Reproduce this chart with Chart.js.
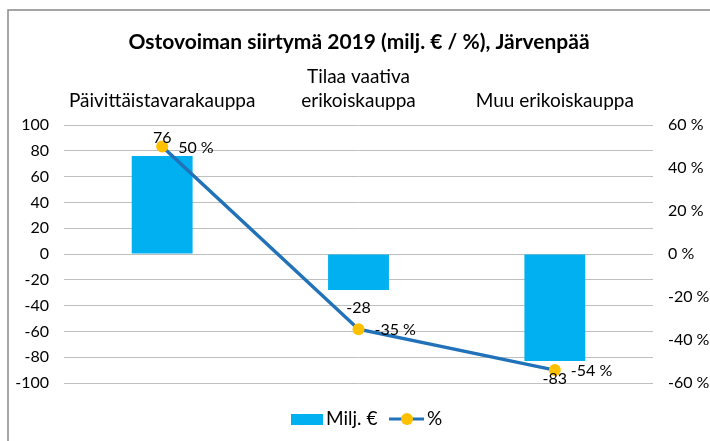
<!DOCTYPE html>
<html><head><meta charset="utf-8">
<script src="https://cdn.jsdelivr.net/npm/chart.js@4/dist/chart.umd.min.js"></script>
<style>html,body{margin:0;padding:0;background:#fff}</style>
</head><body>
<canvas id="c" width="710" height="441" style="width:710px;height:441px;display:block"></canvas>
<script>
const chartTitle = 'Ostovoiman siirtymä 2019 (milj. € / %), Järvenpää';
const categories = [['Päivittäistavarakauppa'], ['Tilaa vaativa', 'erikoiskauppa'], ['Muu erikoiskauppa']];
const seriesNames = ['Milj. €', '%'];
const miljValues = [76, -28, -83];
const pctValues = [50, -35, -54];
const leftAxis = { min: -100, max: 100, step: 20 };
const rightAxis = { min: -60, max: 60, step: 20 };

const FONT = 'Lato';
const BAR_COLOR = '#00B0F0';
const LINE_COLOR = '#2172B8';
const MARKER_COLOR = '#FFC000';

const decor = {
  id: 'decor',
  beforeDraw(chart) {
    const ctx = chart.ctx;
    ctx.save();
    ctx.fillStyle = '#fff';
    ctx.fillRect(0, 0, chart.width, chart.height);
    ctx.strokeStyle = '#888';
    ctx.lineWidth = 1.5;
    ctx.strokeRect(8, 10, chart.width + 20, chart.height + 20);
    ctx.fillStyle = '#000';
    ctx.font = 'bold 21px ' + FONT;
    ctx.textAlign = 'center';
    ctx.textBaseline = 'middle';
    ctx.fillText(chartTitle, 359, 42);
    ctx.restore();
  },
  afterDatasetsDraw(chart) {
    const ctx = chart.ctx;
    ctx.save();
    ctx.fillStyle = '#000';
    ctx.font = '16px ' + FONT;
    ctx.textBaseline = 'middle';
    const barMeta = chart.getDatasetMeta(0);
    barMeta.data.forEach((el, i) => {
      const v = miljValues[i];
      ctx.textAlign = 'center';
      ctx.fillText(String(v), el.x, v >= 0 ? el.y - 18 : el.y + 18);
    });
    const lineMeta = chart.getDatasetMeta(1);
    lineMeta.data.forEach((el, i) => {
      ctx.textAlign = 'left';
      ctx.fillText(pctValues[i] + ' %', el.x + 16, el.y + 1);
    });
    ctx.restore();
  },
  afterDraw(chart) {
    const ctx = chart.ctx;
    ctx.save();
    const cy = 419;
    ctx.fillStyle = BAR_COLOR;
    ctx.fillRect(291, 414, 32, 11);
    ctx.fillStyle = '#000';
    ctx.font = '19px ' + FONT;
    ctx.textAlign = 'left';
    ctx.textBaseline = 'middle';
    ctx.fillText(seriesNames[0], 326, cy);
    ctx.strokeStyle = LINE_COLOR;
    ctx.lineWidth = 3;
    ctx.beginPath();
    ctx.moveTo(389, cy);
    ctx.lineTo(424, cy);
    ctx.stroke();
    ctx.fillStyle = MARKER_COLOR;
    ctx.beginPath();
    ctx.arc(407, cy, 6, 0, Math.PI * 2);
    ctx.fill();
    ctx.fillStyle = '#000';
    ctx.fillText(seriesNames[1], 427, cy);
    ctx.restore();
  }
};

new Chart(document.getElementById('c'), {
  data: {
    labels: categories,
    datasets: [
      {
        type: 'bar', label: seriesNames[0], data: miljValues, yAxisID: 'y',
        backgroundColor: BAR_COLOR, barPercentage: 0.31, categoryPercentage: 1, order: 1
      },
      {
        type: 'line', label: seriesNames[1], data: pctValues, yAxisID: 'y1',
        borderColor: LINE_COLOR, borderWidth: 3.5, pointRadius: 6, pointHoverRadius: 6,
        pointBackgroundColor: MARKER_COLOR, pointBorderColor: MARKER_COLOR, pointBorderWidth: 0,
        tension: 0, order: 0
      }
    ]
  },
  options: {
    responsive: false, animation: false, devicePixelRatio: 1,
    layout: { padding: { left: 10, right: 0, top: 20, bottom: 58 } },
    plugins: { legend: { display: false }, title: { display: false }, tooltip: { enabled: false } },
    scales: {
      x: {
        position: 'top', offset: true,
        grid: { display: false, drawTicks: false }, border: { display: false },
        ticks: { color: '#000', font: { family: FONT, size: 19, lineHeight: '24px' }, padding: 12, crossAlign: 'near', maxRotation: 0, autoSkip: false },
        afterFit(s) { s.height = 105; }
      },
      y: {
        position: 'left', min: leftAxis.min, max: leftAxis.max,
        grid: { color: '#BFBFBF', lineWidth: 1, drawTicks: false }, border: { display: false },
        ticks: { stepSize: leftAxis.step, color: '#000', font: { family: FONT, size: 16 }, padding: 15 },
        afterFit(s) { s.width = 54; }
      },
      y1: {
        position: 'right', min: rightAxis.min, max: rightAxis.max,
        grid: { display: false, drawTicks: false }, border: { display: false },
        ticks: { stepSize: rightAxis.step, color: '#000', font: { family: FONT, size: 16 }, padding: 15, callback: v => v + ' %' },
        afterFit(s) { s.width = 57; }
      }
    }
  },
  plugins: [decor]
});
</script>
</body></html>
